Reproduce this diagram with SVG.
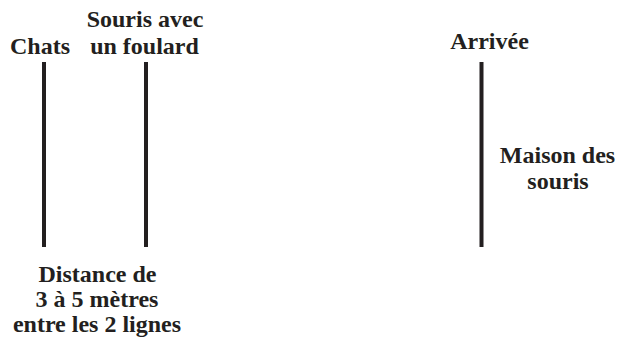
<svg xmlns="http://www.w3.org/2000/svg" width="620" height="343" viewBox="0 0 620 343">
<style>
text{font-weight:bold;font-size:24px;fill:#231f20;text-anchor:middle}
.ln{stroke:#231f20;stroke-width:4;fill:none}
</style>
<rect width="620" height="343" fill="#ffffff"/>
<g id="connectors">
<line class="ln" x1="44" y1="62" x2="44" y2="247"/>
<line class="ln" x1="146" y1="62" x2="146" y2="247"/>
<line class="ln" x1="481.5" y1="62" x2="481.5" y2="247"/>
</g>
<g font-family="Liberation Serif, Times New Roman, DejaVu Serif, serif">
<g id="chats"><text x="40" y="54">Chats</text></g>
<g id="souris-foulard"><text x="145" y="27">Souris avec</text><text x="144.5" y="54">un foulard</text></g>
<g id="arrivee"><text x="489.5" y="49">Arrivée</text></g>
<g id="maison"><text x="557.5" y="163">Maison des</text><text x="558" y="189">souris</text></g>
<g id="distance"><text x="97.5" y="282">Distance de</text><text x="97" y="307">3 à 5 mètres</text><text x="97" y="332">entre les 2 lignes</text></g>
</g>
</svg>
